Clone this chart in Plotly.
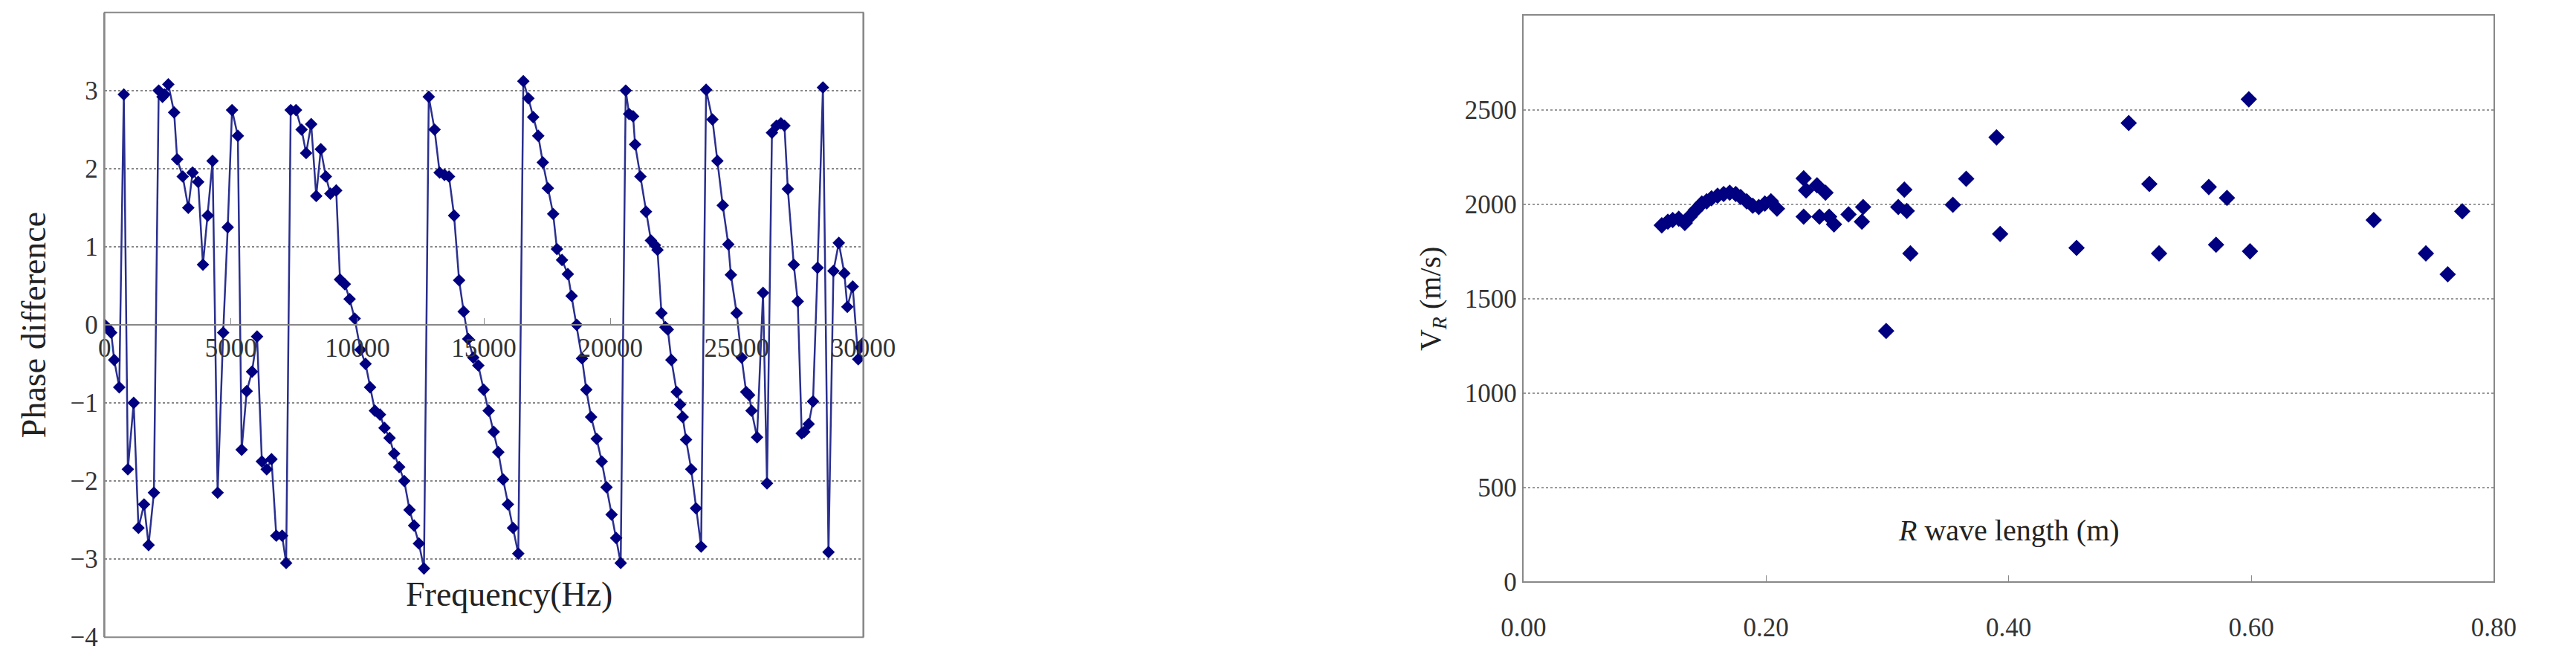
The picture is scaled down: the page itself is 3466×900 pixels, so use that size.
import plotly.graph_objects as go

freq_hz = [0,150,260,380,580,760,920,1150,1340,1560,1740,1950,2140,2290,2370,2520,2750,2870,3090,3310,3480,3700,3890,4080,4270,4470,4690,4870,5040,5270,5420,5620,5830,6030,6220,6410,6600,6790,7020,7180,7360,7570,7790,7970,8170,8370,8550,8750,8930,9160,9310,9500,9690,9890,10120,10320,10500,10690,10890,11070,11270,11450,11650,11850,12060,12240,12430,12630,12820,13050,13250,13440,13620,13820,14020,14200,14380,14580,14780,14990,15190,15390,15570,15760,15950,16150,16360,16560,16760,16950,17150,17330,17530,17740,17890,18090,18320,18470,18670,18880,19050,19240,19460,19660,19850,20050,20230,20410,20610,20743,20900,20979,21190,21410,21606,21763,21865,22022,22179,22273,22414,22626,22760,22862,22995,23199,23387,23591,23787,24038,24234,24446,24666,24768,24995,25191,25372,25490,25584,25803,26039,26196,26392,26572,26745,26886,27020,27255,27412,27569,27670,27843,28016,28196,28408,28628,28824,29036,29255,29373,29585,29804,29898,30000]
phase_diff = [0,-0.05,-0.1,-0.45,-0.8,2.95,-1.85,-1.0,-2.6,-2.3,-2.82,-2.15,3.0,2.92,2.95,3.08,2.72,2.12,1.9,1.5,1.95,1.83,0.77,1.4,2.1,-2.15,-0.1,1.25,2.75,2.42,-1.6,-0.85,-0.6,-0.15,-1.75,-1.85,-1.72,-2.7,-2.7,-3.05,2.75,2.75,2.5,2.2,2.57,1.65,2.25,1.9,1.68,1.72,0.58,0.52,0.33,0.08,-0.32,-0.5,-0.8,-1.1,-1.15,-1.32,-1.45,-1.65,-1.82,-2.0,-2.37,-2.57,-2.8,-3.12,2.92,2.5,1.95,1.92,1.9,1.4,0.57,0.17,-0.18,-0.42,-0.52,-0.83,-1.1,-1.37,-1.63,-1.98,-2.3,-2.6,-2.93,3.12,2.9,2.66,2.42,2.08,1.75,1.42,0.97,0.83,0.65,0.37,0.0,-0.43,-0.83,-1.18,-1.46,-1.75,-2.08,-2.43,-2.73,-3.05,3.0,2.7,2.67,2.31,1.9,1.45,1.08,1.02,0.96,0.15,-0.03,-0.06,-0.45,-0.86,-1.02,-1.18,-1.47,-1.85,-2.35,-2.84,3.01,2.63,2.1,1.53,1.03,0.64,0.15,-0.42,-0.86,-0.9,-1.1,-1.44,0.41,-2.03,2.46,2.55,2.58,2.55,1.74,0.77,0.3,-1.39,-1.37,-1.27,-0.98,0.73,3.04,-2.91,0.69,1.05,0.66,0.23,0.49,-0.44,-0.29,-0.23]

wave_len = [0.114,0.119,0.123,0.128,0.133,0.137,0.142,0.147,0.151,0.155,0.160,0.165,0.170,0.175,0.179,0.184,0.189,0.194,0.199,0.204,0.209,0.231,0.233,0.231,0.242,0.244,0.249,0.252,0.256,0.268,0.280,0.279,0.299,0.309,0.314,0.316,0.319,0.354,0.365,0.390,0.393,0.456,0.499,0.516,0.524,0.565,0.571,0.580,0.598,0.599,0.701,0.744,0.762,0.774]
vel_r = [1889,1908,1917,1924,1901,1935,1970,2004,2016,2032,2046,2055,2062,2055,2039,2016,1993,1986,2004,2016,1977,2138,2074,1935,2101,1935,2062,1935,1894,1947,1986,1908,1329,1986,2078,1965,1740,1998,2136,2355,1843,1769,2431,2108,1740,2092,1786,2034,2557,1751,1917,1740,1629,1963]

freq_ticks = [0,5000,10000,15000,20000,25000,30000]
phase_ticks = [-4,-3,-2,-1,0,1,2,3,4]
len_ticks = [0.0,0.2,0.4,0.6,0.8]
vel_ticks = [0,500,1000,1500,2000,2500,3000]

FONT = "Liberation Serif"
NAVY = "#000080"
LINE = "#2a2f8f"

fig = go.Figure()
fig.add_trace(go.Scatter(x=freq_hz, y=phase_diff, mode="lines+markers",
                         line=dict(color=LINE, width=2.5),
                         marker=dict(symbol="diamond", size=13, color=NAVY),
                         xaxis="x", yaxis="y", showlegend=False))
fig.add_trace(go.Scatter(x=wave_len, y=vel_r, mode="markers",
                         marker=dict(symbol="diamond", size=17, color=NAVY),
                         xaxis="x2", yaxis="y2", showlegend=False))

L_DOM_X = [0.030, 0.331]
L_DOM_Y = [0.035, 0.99]
R_DOM_X = [0.593, 0.978]
R_DOM_Y = [0.12, 0.985]
tf = dict(family=FONT, size=35, color="#333")

fig.update_layout(
    width=3466, height=900, paper_bgcolor="white", plot_bgcolor="white",
    margin=dict(l=0, r=0, t=0, b=0), font=dict(family=FONT, color="#222"),
    xaxis=dict(domain=L_DOM_X, range=[0, 30000], tickvals=freq_ticks, tickformat="d",
               anchor="free", position=(L_DOM_Y[0] + L_DOM_Y[1]) / 2,
               showline=True, linecolor="#888", linewidth=2,
               ticks="inside", ticklen=8, tickcolor="#888",
               showgrid=False, zeroline=False, tickfont=tf),
    yaxis=dict(domain=L_DOM_Y, range=[-4, 4], tickvals=phase_ticks,
               showgrid=True, gridcolor="#888", griddash="dot", gridwidth=2,
               zeroline=False, showline=True, linecolor="#888", linewidth=2, mirror=True,
               ticks="", tickfont=tf,
               title=dict(text="Phase difference", font=dict(family=FONT, size=46, color="#222"), standoff=18)),
    xaxis2=dict(domain=R_DOM_X, range=[0, 0.8], tickvals=len_ticks, tickformat=".2f",
                anchor="y2", showline=True, linecolor="#888", linewidth=2, mirror=True,
                ticks="inside", ticklen=8, tickcolor="#888", ticklabelstandoff=30,
                showgrid=False, zeroline=False, tickfont=tf),
    yaxis2=dict(domain=R_DOM_Y, range=[0, 3000], tickvals=vel_ticks, anchor="x2",
                showgrid=True, gridcolor="#999", griddash="dot", gridwidth=2,
                zeroline=False, showline=True, linecolor="#888", linewidth=2, mirror=True,
                ticks="", tickfont=tf,
                title=dict(text="V<sub><i>R</i></sub> (m/s)", font=dict(family=FONT, size=40, color="#222"), standoff=20)),
)
fig.add_shape(type="rect", xref="x domain", yref="y domain", x0=0, x1=1, y0=0, y1=1,
              line=dict(color="#888", width=2))
fig.add_annotation(x=16000, y=-3.45, xref="x", yref="y", text="Frequency(Hz)",
                   showarrow=False, font=dict(family=FONT, size=46, color="#222"))
fig.add_annotation(x=0.40, y=270, xref="x2", yref="y2", text="<i>R</i> wave length (m)",
                   showarrow=False, font=dict(family=FONT, size=40, color="#222"))

fig.write_html("out.html")
